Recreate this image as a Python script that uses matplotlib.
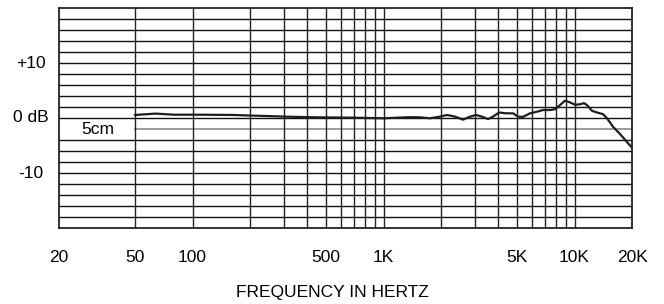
import matplotlib
matplotlib.use("Agg")
import matplotlib.pyplot as plt
import matplotlib.transforms as mtransforms

plt.rcParams['font.family'] = ['Liberation Sans', 'DejaVu Sans']

# Frequency response data (Hz, dB)
freq_hz = [50, 64, 80, 109, 163, 200, 250, 305, 400, 525, 700, 1000, 1376,
           1553, 1752, 1976, 2150, 2370, 2610, 2840, 3050, 3280, 3530, 3740,
           4030, 4380, 4770, 5060, 5370, 5850, 6370, 6840, 7450, 7910, 8400,
           8920, 9460, 10070, 10690, 11220, 11620, 12360, 13120, 14100,
           14800, 15920, 17300, 19760]
level_db = [0.55, 0.8, 0.6, 0.6, 0.55, 0.45, 0.35, 0.25, 0.15, 0.1, 0.05, -0.05, 0.15,
            0.12, -0.05, 0.25, 0.55, 0.25, -0.3, 0.25, 0.55, 0.25, -0.2, 0.25,
            1.0, 0.85, 0.85, 0.25, 0.2, 0.85, 1.15, 1.45, 1.45, 1.6, 2.35,
            3.15, 2.85, 2.4, 2.5, 2.7, 2.35, 1.3, 1.0, 0.7,
            -0.05, -1.6, -2.9, -5.2]

xtick_values = [20, 50, 100, 500, 1000, 5000, 10000, 20000]
xtick_labels = ["20", "50", "100", "500", "1K", "5K", "10K", "20K"]
ytick_values = [10, 0, -10]
ytick_labels = ["+10", "0 dB", "-10"]
vgrid_values = [50, 100, 200, 300, 400, 500, 600, 700, 800, 900,
                1000, 2000, 3000, 4000, 5000, 6000, 7000, 8000, 9000, 10000]
hgrid_values = [-18, -16, -14, -12, -10, -8, -6, -4, 0, 2, 4, 6, 8,
                10, 12, 14, 16, 18]
label_text = "5cm"
xlabel_text = "FREQUENCY IN HERTZ"

FS = 12.5

fig = plt.figure(figsize=(6.64, 3.04), dpi=100)
ax = fig.add_axes([59/664, 76/304, (632-59)/664, (228-8)/304])
ax.set_xscale('log')
ax.set_xlim(20, 20000)
ax.set_ylim(-20, 20)

for y in hgrid_values:
    ax.axhline(y, color='#111111', lw=1.0, zorder=1)
ax.plot([50, 20000], [-2, -2], color='#8a8a8a', lw=1.2, zorder=1)
for x in vgrid_values:
    ax.axvline(x, color='#222222', lw=1.0, zorder=1)

ax.plot(freq_hz, level_db, color='#1e1e1e', lw=1.6, zorder=3,
        solid_joinstyle='round')

for s in ax.spines.values():
    s.set_linewidth(1.3)
    s.set_color('#222222')

ax.set_xticks(xtick_values)
ax.set_xticklabels(xtick_labels, fontsize=FS)
ax.minorticks_off()
ax.set_yticks([])
ax.tick_params(axis='x', length=0, pad=16)

trans = mtransforms.blended_transform_factory(fig.transFigure, ax.transData)
for v, lab in zip(ytick_values, ytick_labels):
    ax.text(31/664, v, lab, transform=trans, ha='center', va='center',
            fontsize=FS, clip_on=False)

ax.text(32, -2, label_text, ha='center', va='center', fontsize=FS, zorder=4)

fig.text(332/664, 12/304, xlabel_text, ha='center', va='center', fontsize=FS)

fig.savefig('out.png', dpi=100)
